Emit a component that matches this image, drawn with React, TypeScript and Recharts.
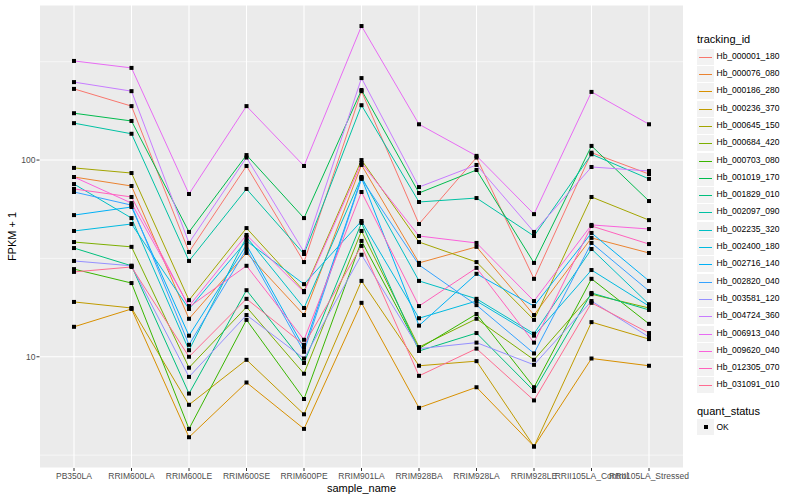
import React from 'react';
import { ComposedChart, Line, XAxis, YAxis, CartesianGrid, ReferenceLine, Label } from 'recharts';

const samples = [
  'PB350LA', 'RRIM600LA', 'RRIM600LE', 'RRIM600SE', 'RRIM600PE', 'RRIM901LA',
  'RRIM928BA', 'RRIM928LA', 'RRIM928LE', 'RRII105LA_Control', 'RRII105LA_Stressed',
];

const trackingIds = [
  'Hb_000001_180', 'Hb_000076_080', 'Hb_000186_280', 'Hb_000236_370', 'Hb_000645_150',
  'Hb_000684_420', 'Hb_000703_080', 'Hb_001019_170', 'Hb_001829_010', 'Hb_002097_090',
  'Hb_002235_320', 'Hb_002400_180', 'Hb_002716_140', 'Hb_002820_040', 'Hb_003581_120',
  'Hb_004724_360', 'Hb_006913_040', 'Hb_009620_040', 'Hb_012305_070', 'Hb_031091_010',
];

// ggplot hue palette, 20 levels
const palette = [
  '#F8766D', '#EA8331', '#D89000', '#C09B00', '#A3A500', '#7CAE00', '#39B600', '#00BB4E',
  '#00BF7D', '#00C1A3', '#00BFC4', '#00BAE0', '#00B0F6', '#35A2FF', '#9590FF', '#C77CFF',
  '#E76BF3', '#FA62DB', '#FF62BC', '#FF6C91',
];

// FPKM + 1 per gene, in sample order
const hb000001_180 = [230, 188, 34.1, 93.3, 30.3, 224, 47.3, 103, 24.9, 109, 84.9];
const hb000076_080 = [82, 73.8, 15.6, 33.7, 16.3, 94.4, 30.0, 36.2, 16.3, 40.2, 33.7];
const hb000186_280 = [14.2, 17.5, 3.9, 7.4, 4.3, 18.8, 5.5, 7.0, 3.5, 9.8, 9.0];
const hb000236_370 = [19.0, 17.7, 5.7, 9.65, 5.1, 24.3, 9.0, 9.5, 3.5, 15.0, 12.3];
const hb000645_150 = [91.2, 85.9, 19.4, 45.1, 21.6, 100, 38.3, 30.3, 15.4, 64.9, 49.5];
const hb000684_420 = [38.3, 36.2, 8.8, 17.9, 8.2, 43.6, 11.2, 15.6, 9.65, 20.8, 17.7];
const hb000703_080 = [27.9, 23.7, 4.3, 15.4, 6.1, 38.8, 11.0, 16.5, 7.0, 24.9, 14.7];
const hb001019_170 = [173, 158, 43.1, 106, 50.7, 227, 68.0, 89.0, 30.0, 118, 61.9];
const hb001829_010 = [35.7, 29.0, 6.5, 21.8, 9.3, 47.9, 10.7, 13.2, 6.7, 21.1, 17.3];
const hb002097_090 = [154, 136, 30.7, 71.3, 33.3, 190, 61.2, 64.1, 41.1, 107, 80.2];
const hb002235_320 = [75.5, 50.7, 10.8, 40.6, 17.7, 82.0, 24.3, 19.7, 13.1, 35.3, 18.5];
const hb002400_180 = [43.6, 47.3, 17.5, 38.8, 23.4, 49.0, 15.7, 19.2, 12.8, 27.6, 18.1];
const hb002716_140 = [52.5, 57.7, 12.8, 37.0, 11.1, 81.1, 14.4, 26.4, 18.1, 42.6, 24.3];
const hb002820_040 = [68.8, 59.0, 11.5, 35.3, 10.6, 80.2, 29.3, 18.3, 10.4, 37.9, 21.6];
const hb003581_120 = [30.7, 29.0, 7.9, 16.3, 9.8, 33.0, 11.0, 11.8, 9.1, 19.2, 12.6];
const hb004724_360 = [249, 224, 37.9, 103, 34.1, 261, 72.9, 94.4, 43.1, 92.2, 88.0];
const hb006913_040 = [319, 294, 67.2, 188, 93.3, 480, 152, 105, 53.1, 222, 152];
const hb009620_040 = [82.0, 60.4, 18.1, 41.6, 21.3, 96.6, 41.1, 37.9, 19.2, 46.8, 44.6];
const hb012305_070 = [71.3, 64.9, 17.9, 29.0, 12.2, 68.8, 18.1, 28.3, 11.8, 46.2, 37.4];
const hb031091_010 = [27.0, 28.6, 10.0, 19.7, 11.5, 36.6, 8.0, 11.0, 6.0, 18.8, 13.2];

const seriesValues = [
  hb000001_180, hb000076_080, hb000186_280, hb000236_370, hb000645_150,
  hb000684_420, hb000703_080, hb001019_170, hb001829_010, hb002097_090,
  hb002235_320, hb002400_180, hb002716_140, hb002820_040, hb003581_120,
  hb004724_360, hb006913_040, hb009620_040, hb012305_070, hb031091_010,
];

const yTicks = [10, 100];
const minorBreaks = [3.162, 31.62, 316.2];

const rows = samples.map((sample, i) => {
  const row: Record<string, any> = { sample };
  trackingIds.forEach((id, k) => {
    row[id] = seriesValues[k][i];
  });
  return row;
});

const squareDot = (props: any) => {
  const { cx, cy, index, dataKey } = props;
  if (cx == null || cy == null) return null;
  return <rect key={`${dataKey}-${index}`} x={cx - 2} y={cy - 2} width={4} height={4} fill="#000" />;
};

const KEY_TOP = 56.7;
const KEY_STEP = 17.3;

function LegendPanel() {
  return (
    <div style={{ position: 'absolute', left: 0, top: 0, width: 800, height: 500, pointerEvents: 'none' }}>
      <div style={{ position: 'absolute', left: 697, top: 33, fontSize: 11, lineHeight: '13px', color: '#000' }}>
        tracking_id
      </div>
      {trackingIds.map((id, i) => {
        const centre = Math.round(KEY_TOP + KEY_STEP * i);
        return (
          <React.Fragment key={id}>
            <div style={{ position: 'absolute', left: 697, top: centre - 8, width: 17, height: 16, background: '#F2F2F2' }} />
            <div style={{ position: 'absolute', left: 699, top: centre - 0.5, width: 13, height: 1.5, background: palette[i] }} />
            <div style={{ position: 'absolute', left: 716.5, top: centre - 8.65, height: KEY_STEP, lineHeight: `${KEY_STEP}px`, fontSize: 8.5, color: '#000' }}>
              {id}
            </div>
          </React.Fragment>
        );
      })}
      <div style={{ position: 'absolute', left: 697, top: 405, fontSize: 11, lineHeight: '13px', color: '#000' }}>
        quant_status
      </div>
      <div style={{ position: 'absolute', left: 697, top: 419, width: 17, height: 16, background: '#F2F2F2' }}>
        <div style={{ position: 'absolute', left: 6.5, top: 6, width: 4, height: 4, background: '#000' }} />
      </div>
      <div style={{ position: 'absolute', left: 716.5, top: 418.5, height: 17.3, lineHeight: '17.3px', fontSize: 8.5, color: '#000' }}>
        OK
      </div>
    </div>
  );
}

export default function App() {
  return (
    <div
      style={{
        position: 'absolute', left: 0, top: 0, width: 800, height: 500, background: '#fff',
        fontFamily: '"Liberation Sans", Arial, sans-serif',
      }}
    >
      <ComposedChart width={800} height={500} data={rows} margin={{ top: 5, right: 116.5, bottom: 0, left: 0 }}>
        <CartesianGrid fill="#EBEBEB" stroke="#FFFFFF" strokeWidth={1.07} />
        {minorBreaks.map((v) => (
          <ReferenceLine key={v} y={v} stroke="#FFFFFF" strokeWidth={0.55} />
        ))}
        <XAxis
          dataKey="sample"
          type="category"
          scale="point"
          padding={{ left: 34.5, right: 34.5 }}
          interval={0}
          height={32}
          axisLine={false}
          tickSize={3}
          tickMargin={2}
          tickLine={{ stroke: '#333333' }}
          tick={{ fontSize: 8.5, fill: '#4D4D4D' }}
        >
          <Label
            content={() => (
              <text x={361.5} y={492} textAnchor="middle" fontSize={11} fill="#000">
                sample_name
              </text>
            )}
          />
        </XAxis>
        <YAxis
          type="number"
          scale="log"
          domain={[2.72, 614]}
          allowDataOverflow
          ticks={yTicks}
          width={39.5}
          axisLine={false}
          tickSize={3}
          tickMargin={1}
          tickLine={{ stroke: '#333333' }}
          tick={{ fontSize: 8.5, fill: '#4D4D4D' }}
        >
          <Label
            content={() => (
              <text
                x={12}
                y={236.5}
                transform="rotate(-90 12 236.5)"
                textAnchor="middle"
                dominantBaseline="central"
                fontSize={11}
                fill="#000"
              >
                FPKM + 1
              </text>
            )}
          />
        </YAxis>
        {trackingIds.map((id, k) => (
          <Line
            key={id}
            dataKey={id}
            type="linear"
            stroke={palette[k]}
            strokeWidth={1}
            dot={false}
            activeDot={false}
            isAnimationActive={false}
          />
        ))}
        {trackingIds.map((id) => (
          <Line
            key={`${id}-pts`}
            dataKey={id}
            type="linear"
            stroke="none"
            dot={squareDot}
            activeDot={false}
            legendType="none"
            isAnimationActive={false}
          />
        ))}
      </ComposedChart>
      <LegendPanel />
    </div>
  );
}
